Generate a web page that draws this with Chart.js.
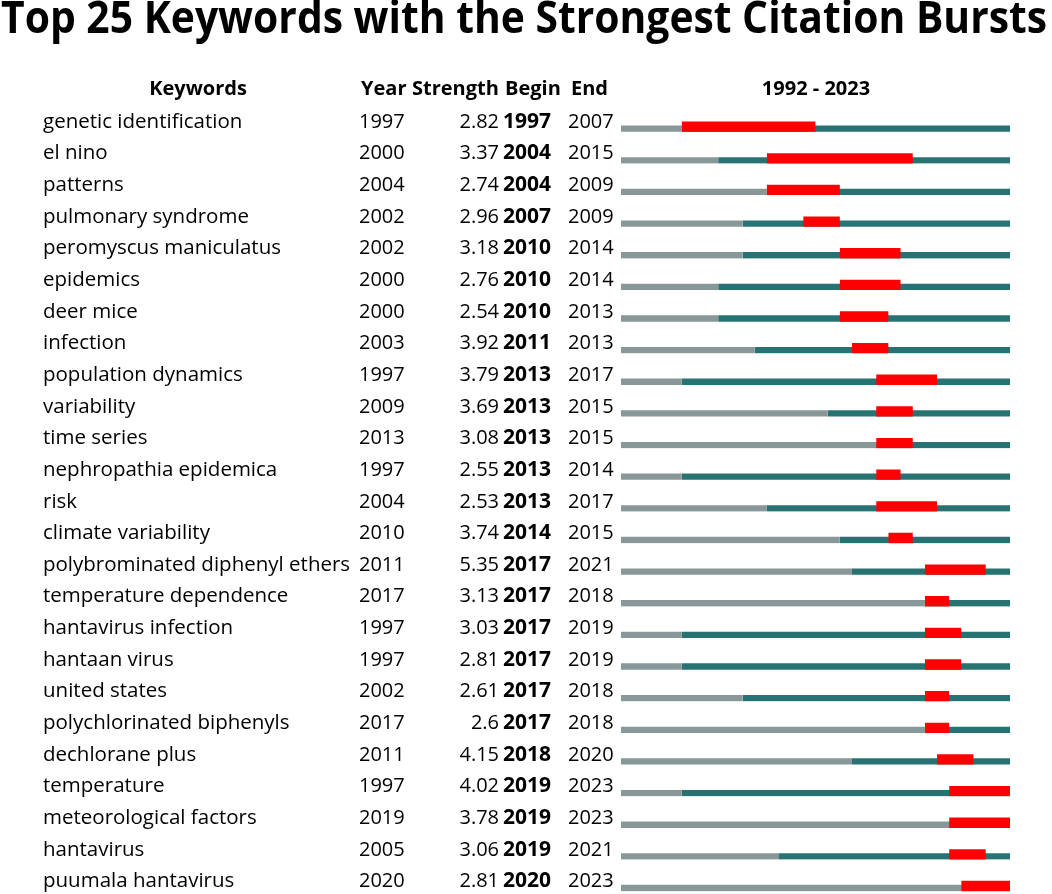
<!DOCTYPE html>
<html>
<head>
<meta charset="utf-8">
<script src="https://cdn.jsdelivr.net/npm/chart.js@4/dist/chart.umd.min.js"></script>
<style>
	html, body { margin: 0; padding: 0; background: #fff; overflow: hidden; width: 1052px; height: 894px; }
	#title {
		position: absolute; left: 1px; top: -6px; display: inline-block;
		font-family: 'Open Sans', sans-serif; font-weight: 700; font-size: 44px; line-height: 44px;
		color: #000; white-space: nowrap; z-index: 2; transform-origin: 0 0;
	}
	#burstChart { position: absolute; left: 0; top: 0; }
</style>
</head>
<body>
<div id="title">Top 25 Keywords with the Strongest Citation Bursts</div>
<canvas id="burstChart" width="1052" height="901"></canvas>
<script>
// Time span of the analysis
const FIRST_YEAR = 1992;
const LAST_YEAR = 2023;

// --- Data (one entry per keyword row) ---
const keywords = [
	'genetic identification', 'el nino', 'patterns', 'pulmonary syndrome',
	'peromyscus maniculatus', 'epidemics', 'deer mice', 'infection',
	'population dynamics', 'variability', 'time series', 'nephropathia epidemica',
	'risk', 'climate variability', 'polybrominated diphenyl ethers',
	'temperature dependence', 'hantavirus infection', 'hantaan virus',
	'united states', 'polychlorinated biphenyls', 'dechlorane plus',
	'temperature', 'meteorological factors', 'hantavirus', 'puumala hantavirus'
];
const years = [1997, 2000, 2004, 2002, 2002, 2000, 2000, 2003, 1997, 2009, 2013, 1997,
	2004, 2010, 2011, 2017, 1997, 1997, 2002, 2017, 2011, 1997, 2019, 2005, 2020];
const strengths = ['2.82', '3.37', '2.74', '2.96', '3.18', '2.76', '2.54', '3.92', '3.79',
	'3.69', '3.08', '2.55', '2.53', '3.74', '5.35', '3.13', '3.03', '2.81', '2.61', '2.6',
	'4.15', '4.02', '3.78', '3.06', '2.81'];
const begins = [1997, 2004, 2004, 2007, 2010, 2010, 2010, 2011, 2013, 2013, 2013, 2013,
	2013, 2014, 2017, 2017, 2017, 2017, 2017, 2017, 2018, 2019, 2019, 2019, 2020];
const ends = [2007, 2015, 2009, 2009, 2014, 2014, 2013, 2013, 2017, 2015, 2015, 2014,
	2017, 2015, 2021, 2018, 2019, 2019, 2018, 2018, 2020, 2023, 2023, 2021, 2023];

// Colours
const GREY = '#889797';
const TEAL = '#277272';
const RED = '#ff0000';

const SPAN = LAST_YEAR - FIRST_YEAR + 1;
const FONT = "'Open Sans', sans-serif";

// Each year occupies [year, year + 1) on the x scale (0 = start of FIRST_YEAR)
const greyData = years.map(y => [0, y - FIRST_YEAR]);
const tealData = years.map(y => [y - FIRST_YEAR, SPAN]);
const burstData = begins.map((b, i) => [b - FIRST_YEAR, ends[i] - FIRST_YEAR + 1]);

// Squeeze the title so it spans the page width like the original
function fitTitle() {
	const el = document.getElementById('title');
	el.style.transform = 'none';
	const w = el.getBoundingClientRect().width;
	if (w > 0) el.style.transform = `scaleX(${1046 / w})`;
}

/**
 * Draws the keyword table to the left of the bars, row by row,
 * using the y scale so each line sits on its own category.
 */
const tablePlugin = {
	id: 'burstTable',
	afterDraw(chart) {
		const { ctx, scales: { y } } = chart;
		ctx.save();
		ctx.fillStyle = '#000';
		ctx.textBaseline = 'alphabetic';

		// Header row
		const headY = 95;
		ctx.font = `bold 20px ${FONT}`;
		ctx.textAlign = 'center';
		ctx.fillText('Keywords', 198, headY);
		ctx.fillText(`${FIRST_YEAR} - ${LAST_YEAR}`, 816, headY);
		ctx.textAlign = 'left';
		ctx.fillText('Year', 361, headY);
		ctx.fillText('Strength', 412, headY);
		ctx.fillText('Begin', 505, headY);
		ctx.fillText('End', 571, headY);

		keywords.forEach((kw, i) => {
			const base = y.getPixelForValue(i) + 2;
			ctx.textAlign = 'left';
			ctx.font = `20.5px ${FONT}`;
			ctx.fillText(kw, 43, base);
			ctx.font = `20px ${FONT}`;
			ctx.fillText(String(years[i]), 359, base);
			ctx.fillText(String(ends[i]), 568, base);
			ctx.textAlign = 'right';
			ctx.fillText(strengths[i], 499, base);
			ctx.font = `bold 21px ${FONT}`;
			ctx.textAlign = 'left';
			ctx.fillText(String(begins[i]), 503, base);
		});
		ctx.restore();
	}
};

// All bars share a 12px slot; transparent top borders leave the visible
// part bottom-aligned (burst 10px tall, timeline 6px tall)
const barBase = {
	grouped: false,
	barThickness: 12,
	borderSkipped: false,
	borderColor: 'rgba(0,0,0,0)'
};

fitTitle();

new Chart(document.getElementById('burstChart'), {
	type: 'bar',
	data: {
		labels: keywords,
		datasets: [
			{ ...barBase, label: 'Burst', data: burstData, backgroundColor: RED,
				borderWidth: { top: 2, right: 0, bottom: 0, left: 0 } },
			{ ...barBase, label: 'Before first appearance', data: greyData, backgroundColor: GREY,
				borderWidth: { top: 6, right: 0, bottom: 0, left: 0 } },
			{ ...barBase, label: 'Active', data: tealData, backgroundColor: TEAL,
				borderWidth: { top: 6, right: 0, bottom: 0, left: 0 } }
		]
	},
	options: {
		indexAxis: 'y',
		responsive: false,
		animation: false,
		layout: { padding: { left: 621, right: 42, top: 110, bottom: 0 } },
		scales: {
			x: { type: 'linear', min: 0, max: SPAN, display: false },
			y: { display: false }
		},
		plugins: {
			legend: { display: false },
			tooltip: { enabled: false }
		}
	},
	plugins: [tablePlugin]
});

if (document.fonts) document.fonts.ready.then(fitTitle);
</script>
</body>
</html>
